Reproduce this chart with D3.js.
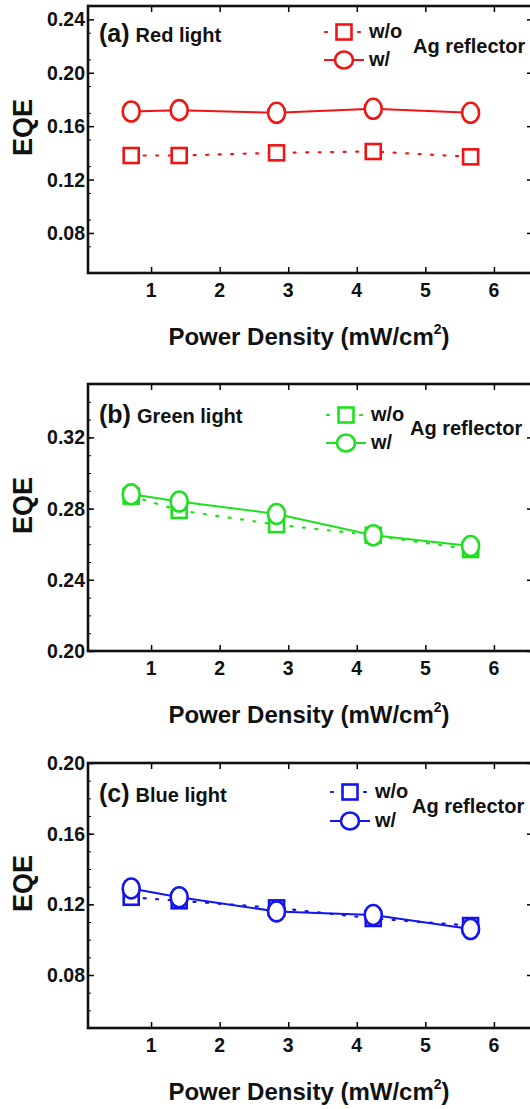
<!DOCTYPE html>
<html>
<head>
<meta charset="utf-8">
<script src="https://cdn.jsdelivr.net/npm/d3@7"></script>
<style>
  body { margin: 0; background: white; }
  text { font-family: "Liberation Sans", Arial, sans-serif; font-weight: bold; }
</style>
</head>
<body>
<div id="chart"></div>
<script>
// values
const powerDensity = [0.71, 1.41, 2.83, 4.24, 5.66]
const redWithout = [0.138, 0.138, 0.140, 0.141, 0.137]
const redWith = [0.171, 0.172, 0.170, 0.173, 0.170]
const greenWithout = [0.287, 0.279, 0.271, 0.265, 0.257]
const greenWith = [0.288, 0.284, 0.277, 0.265, 0.259]
const blueWithout = [0.124, 0.122, 0.118, 0.112, 0.108]
const blueWith = [0.129, 0.124, 0.116, 0.114, 0.106]
const xTicks = [1, 2, 3, 4, 5, 6]
const redTicks = [0.08, 0.12, 0.16, 0.20, 0.24]
const greenTicks = [0.20, 0.24, 0.28, 0.32]
const blueTicks = [0.08, 0.12, 0.16, 0.20]
const panelLetters = ['(a)', '(b)', '(c)']
const panelNames = ['Red light', 'Green light', 'Blue light']
const legendLabels = ['w/o', 'w/']

let panels = [
    {without: redWithout, withR: redWith, ticks: redTicks, yDom: [0.05, 0.25], minor: 0.02, color: '#f01414',
     top: 6, bottom: 273, titleY: 36, sqY: 26, ciY: 54, agY: 47, legX: 344, agX: 413},
    {without: greenWithout, withR: greenWith, ticks: greenTicks, yDom: [0.20, 0.35], minor: 0.01, color: '#1ee01e',
     top: 384, bottom: 651, titleY: 39, sqY: 31, ciY: 59, agY: 51, legX: 346, agX: 410},
    {without: blueWithout, withR: blueWith, ticks: blueTicks, yDom: [0.05, 0.20], minor: 0.01, color: '#1414f0',
     top: 763, bottom: 1028, titleY: 39, sqY: 29, ciY: 58, agY: 50, legX: 350, agX: 412}
]

let W = 530, H = 1109
let left = 88, right = 533
let svg = d3.select('#chart').append('svg')
    .attr('width', W).attr('height', H)

let scX = d3.scaleLinear().domain([0.08, 6.57]).range([left, right])

panels.forEach((p, idx)=>{
    let scY = d3.scaleLinear().domain(p.yDom).range([p.bottom, p.top])
    let g = svg.append('g')

    // minor ticks
    let minorTicks = d3.range(p.yDom[0], p.yDom[1] + 1e-9, p.minor)
    g.append('g').attr('transform', `translate(${left},0)`)
        .call(d3.axisRight(scY).tickValues(minorTicks).tickSize(3).tickFormat(''))
        .call(a=>a.select('.domain').remove())
    g.append('g').attr('transform', `translate(${right},0)`)
        .call(d3.axisLeft(scY).tickValues(minorTicks).tickSize(3).tickFormat(''))
        .call(a=>a.select('.domain').remove())

    // major ticks, with own text labels on the left
    g.append('g').attr('transform', `translate(${left},0)`)
        .call(d3.axisRight(scY).tickValues(p.ticks).tickSize(6).tickFormat(''))
        .call(a=>a.select('.domain').remove())
        .selectAll('line').attr('stroke-width', 1.5)
    g.selectAll('text.ylab').data(p.ticks).enter().append('text')
        .attr('class', 'ylab')
        .attr('x', left - 3).attr('y', d=>scY(d) + 7)
        .attr('text-anchor', 'end')
        .attr('font-size', '19.5px').attr('fill', '#111')
        .text(d3.format('.2f'))
    g.append('g').attr('transform', `translate(${right},0)`)
        .call(d3.axisLeft(scY).tickValues(p.ticks).tickSize(6).tickFormat(''))
        .call(a=>a.select('.domain').remove())
        .selectAll('line').attr('stroke-width', 1.5)

    g.append('g').attr('transform', `translate(0,${p.bottom})`)
        .call(d3.axisTop(scX).tickValues(xTicks).tickSize(6).tickFormat(''))
        .call(a=>a.select('.domain').remove())
        .selectAll('line').attr('stroke-width', 1.5)
    g.selectAll('text.xlab').data(xTicks).enter().append('text')
        .attr('class', 'xlab')
        .attr('x', d=>scX(d)).attr('y', p.bottom + 24)
        .attr('text-anchor', 'middle')
        .attr('font-size', '19.5px').attr('fill', '#111')
        .text(d=>d)
    g.append('g').attr('transform', `translate(0,${p.top})`)
        .call(d3.axisBottom(scX).tickValues(xTicks).tickSize(6).tickFormat(''))
        .call(a=>a.select('.domain').remove())
        .selectAll('line').attr('stroke-width', 1.5)

    g.append('rect')
        .attr('x', left).attr('y', p.top)
        .attr('width', right - left).attr('height', p.bottom - p.top)
        .attr('fill', 'none').attr('stroke', '#111').attr('stroke-width', 2.6)

    // series
    let line = d3.line().x((d, i)=>scX(powerDensity[i])).y(d=>scY(d))
    g.append('path').datum(p.without)
        .attr('d', line).attr('fill', 'none')
        .attr('stroke', p.color).attr('stroke-width', 2.2)
        .attr('stroke-dasharray', '2,10.5').attr('stroke-linecap', 'round')
    g.append('path').datum(p.withR)
        .attr('d', line).attr('fill', 'none')
        .attr('stroke', p.color).attr('stroke-width', 2)

    g.selectAll('rect.sq').data(p.without).enter().append('rect')
        .attr('class', 'sq')
        .attr('x', (d, i)=>scX(powerDensity[i]) - 7.5)
        .attr('y', d=>scY(d) - 7.5)
        .attr('width', 15).attr('height', 15)
        .attr('fill', 'white').attr('stroke', p.color).attr('stroke-width', 2.6)
    g.selectAll('ellipse.ci').data(p.withR).enter().append('ellipse')
        .attr('class', 'ci')
        .attr('cx', (d, i)=>scX(powerDensity[i]))
        .attr('cy', d=>scY(d))
        .attr('rx', 8.5).attr('ry', 10)
        .attr('fill', 'white').attr('stroke', p.color).attr('stroke-width', 2.6)

    // panel title
    let title = g.append('text')
        .attr('x', 99).attr('y', p.top + p.titleY).attr('fill', '#111')
    title.append('tspan').attr('font-size', '25px').text(panelLetters[idx])
    title.append('tspan').attr('font-size', '20px').attr('dx', 6).text(panelNames[idx])

    // legend
    let lg = g.append('g')
    let sy = p.top + p.sqY, cy = p.top + p.ciY
    lg.append('line')
        .attr('x1', p.legX - 19).attr('x2', p.legX + 19)
        .attr('y1', sy).attr('y2', sy)
        .attr('stroke', p.color).attr('stroke-width', 2.2)
        .attr('stroke-dasharray', '2,31').attr('stroke-linecap', 'round')
    lg.append('rect')
        .attr('x', p.legX - 7.5).attr('y', sy - 7.5)
        .attr('width', 15).attr('height', 15)
        .attr('fill', 'white').attr('stroke', p.color).attr('stroke-width', 2.6)
    lg.append('line')
        .attr('x1', p.legX - 20).attr('x2', p.legX + 20)
        .attr('y1', cy).attr('y2', cy)
        .attr('stroke', p.color).attr('stroke-width', 2)
    lg.append('ellipse')
        .attr('cx', p.legX).attr('cy', cy)
        .attr('rx', 9).attr('ry', 8.5)
        .attr('fill', 'white').attr('stroke', p.color).attr('stroke-width', 2.6)
    lg.append('text')
        .attr('x', p.legX + 25).attr('y', sy + 6)
        .attr('font-size', '20px').attr('fill', '#111')
        .text(legendLabels[0])
    lg.append('text')
        .attr('x', p.legX + 25).attr('y', cy + 6)
        .attr('font-size', '20px').attr('fill', '#111')
        .text(legendLabels[1])
    lg.append('text')
        .attr('x', p.agX).attr('y', p.top + p.agY)
        .attr('font-size', '20px').attr('fill', '#111')
        .text('Ag reflector')

    // axis titles
    g.append('text')
        .attr('transform', `translate(32,${(p.top + p.bottom) / 2 - 12}) rotate(-90)`)
        .attr('text-anchor', 'middle')
        .attr('font-size', '27px').attr('fill', '#111')
        .text('EQE')
    let xl = g.append('text')
        .attr('x', 309).attr('y', p.bottom + 72)
        .attr('text-anchor', 'middle')
        .attr('font-size', '24px').attr('fill', '#111')
    xl.append('tspan').text('Power Density (mW/cm')
    xl.append('tspan').attr('font-size', '14px').attr('dy', -11).text('2')
    xl.append('tspan').attr('dy', 11).text(')')
})
</script>
</body>
</html>
